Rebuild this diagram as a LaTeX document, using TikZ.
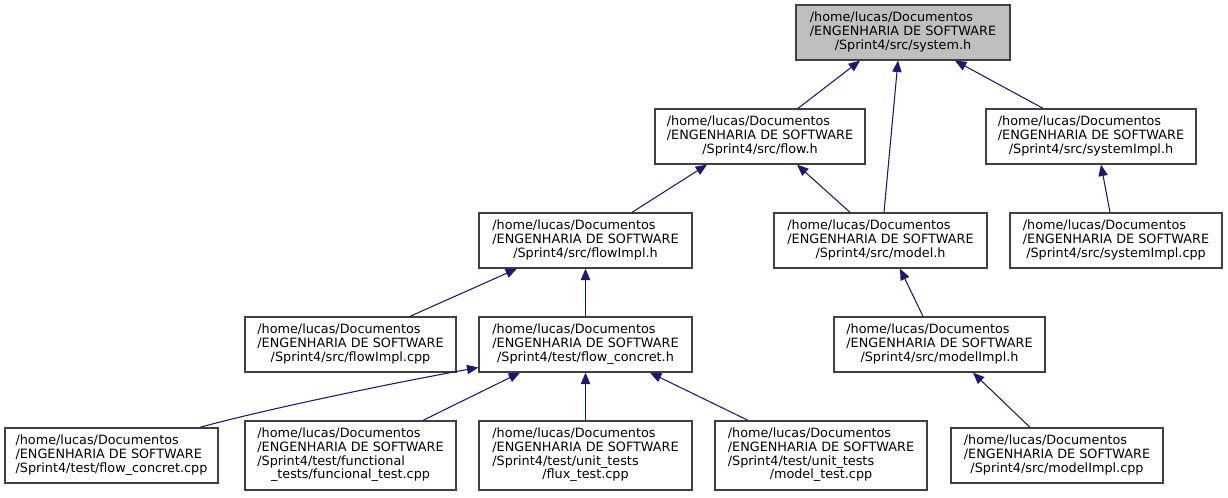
\documentclass[tikz,border=0pt]{standalone}
\usepackage{fontspec}
\setmainfont{DejaVu Sans}
\usetikzlibrary{arrows.meta}
\definecolor{edgeblue}{HTML}{191970}
\definecolor{boxgray}{HTML}{BFBFBF}
\definecolor{boxline}{HTML}{404040}
\newcommand{\lbl}[2]{\begin{tabular}{@{}l@{}}#1\\\multicolumn{1}{@{}c@{}}{#2}\end{tabular}}
\begin{document}
\begin{tikzpicture}[x=0.75pt,y=-0.75pt,
  box/.style={draw=boxline,line width=1pt,fill=white,rectangle,inner sep=0pt,
    minimum height=55*0.75pt,font=\fontsize{9.6}{10.2}\selectfont,align=center},
  tall/.style={minimum height=69*0.75pt},
  bw/.style={minimum width=#1*0.75pt},
  dep/.style={draw=edgeblue,line width=0.8pt,-{Triangle[length=8.5pt,width=7pt]}}]
\useasboundingbox (0,0) rectangle (1228,497);

\node[box,bw=214,fill=boxgray] (sys) at (903,32.5) {\lbl{/home/lucas/Documentos\\/ENGENHARIA DE SOFTWARE}{/Sprint4/src/system.h}};
\node[box,bw=210] (flowh) at (760,136.5) {\lbl{/home/lucas/Documentos\\/ENGENHARIA DE SOFTWARE}{/Sprint4/src/flow.h}};
\node[box,bw=210] (sysimplh) at (1091,136.5) {\lbl{/home/lucas/Documentos\\/ENGENHARIA DE SOFTWARE}{/Sprint4/src/systemImpl.h}};
\node[box,bw=213] (flowimplh) at (585.5,240.5) {\lbl{/home/lucas/Documentos\\/ENGENHARIA DE SOFTWARE}{/Sprint4/src/flowImpl.h}};
\node[box,bw=213] (modelh) at (880.5,240.5) {\lbl{/home/lucas/Documentos\\/ENGENHARIA DE SOFTWARE}{/Sprint4/src/model.h}};
\node[box,bw=212] (sysimplcpp) at (1116,240.5) {\lbl{/home/lucas/Documentos\\/ENGENHARIA DE SOFTWARE}{/Sprint4/src/systemImpl.cpp}};
\node[box,bw=211] (flowimplcpp) at (350.5,344.5) {\lbl{/home/lucas/Documentos\\/ENGENHARIA DE SOFTWARE}{/Sprint4/src/flowImpl.cpp}};
\node[box,bw=213] (fch) at (585.5,344.5) {\lbl{/home/lucas/Documentos\\/ENGENHARIA DE SOFTWARE}{/Sprint4/test/flow\_concret.h}};
\node[box,bw=211] (modelimplh) at (939.5,344.5) {\lbl{/home/lucas/Documentos\\/ENGENHARIA DE SOFTWARE}{/Sprint4/src/modelImpl.h}};
\node[box,bw=213] (fccpp) at (111.5,455.5) {\lbl{/home/lucas/Documentos\\/ENGENHARIA DE SOFTWARE}{/Sprint4/test/flow\_concret.cpp}};
\node[box,tall,bw=211] (functest) at (350.5,455.5) {\lbl{/home/lucas/Documentos\\/ENGENHARIA DE SOFTWARE\\/Sprint4/test/functional}{\_tests/funcional\_test.cpp}};
\node[box,tall,bw=213] (fluxtest) at (585.5,455.5) {\lbl{/home/lucas/Documentos\\/ENGENHARIA DE SOFTWARE\\/Sprint4/test/unit\_tests}{/flux\_test.cpp}};
\node[box,tall,bw=212] (modeltest) at (821,455.5) {\lbl{/home/lucas/Documentos\\/ENGENHARIA DE SOFTWARE\\/Sprint4/test/unit\_tests}{/model\_test.cpp}};
\node[box,bw=212] (modelimplcpp) at (1057,455.5) {\lbl{/home/lucas/Documentos\\/ENGENHARIA DE SOFTWARE}{/Sprint4/src/modelImpl.cpp}};

\draw[dep] ([xshift=38*0.75pt]flowh.north) -- ([xshift=-43*0.75pt]sys.south);
\draw[dep] ([xshift=3.5*0.75pt]modelh.north) -- ([xshift=-5*0.75pt]sys.south);
\draw[dep] ([xshift=-48*0.75pt]sysimplh.north) -- ([xshift=52*0.75pt]sys.south);
\draw[dep] ([xshift=46.5*0.75pt]flowimplh.north) -- ([xshift=-53*0.75pt]flowh.south);
\draw[dep] ([xshift=-30.5*0.75pt]modelh.north) -- ([xshift=37*0.75pt]flowh.south);
\draw[dep] ([xshift=-6*0.75pt]sysimplcpp.north) -- ([xshift=10*0.75pt]sysimplh.south);
\draw[dep] ([xshift=59.5*0.75pt]flowimplcpp.north) -- ([xshift=-68.5*0.75pt]flowimplh.south);
\draw[dep] (fch.north) -- (flowimplh.south);
\draw[dep] ([xshift=-16.5*0.75pt]modelimplh.north) -- ([xshift=19.5*0.75pt]modelh.south);
\draw[dep] ([xshift=-27*0.75pt]modelimplcpp.north) -- ([xshift=33.5*0.75pt]modelimplh.south);
\draw[dep] ([xshift=88.5*0.75pt]fccpp.north) .. controls +(50,-14) and +(-110,20) .. ([yshift=-23*0.75pt]fch.west);
\draw[dep] ([xshift=72.5*0.75pt]functest.north) -- ([xshift=-65.5*0.75pt]fch.south);
\draw[dep] (fluxtest.north) -- (fch.south);
\draw[dep] ([xshift=-73*0.75pt]modeltest.north) -- ([xshift=64.5*0.75pt]fch.south);
\end{tikzpicture}
\end{document}
